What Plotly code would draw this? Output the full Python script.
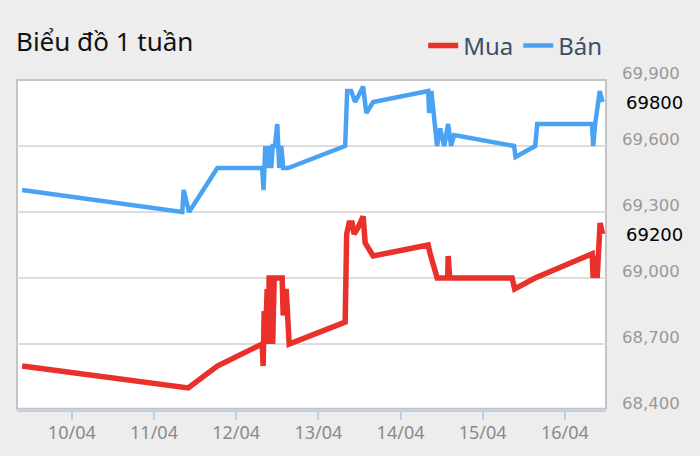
import plotly.graph_objects as go

# ---- data -------------------------------------------------------------
ban_times = [
    "2022-04-09 09:30", "2022-04-11 08:15", "2022-04-11 08:40", "2022-04-11 10:15",
    "2022-04-11 18:30", "2022-04-12 07:35", "2022-04-12 08:00", "2022-04-12 08:30",
    "2022-04-12 09:05", "2022-04-12 09:45", "2022-04-12 10:15", "2022-04-12 10:40",
    "2022-04-12 11:20", "2022-04-12 12:00", "2022-04-12 12:35", "2022-04-12 13:10",
    "2022-04-12 13:45", "2022-04-12 15:10", "2022-04-13 07:50", "2022-04-13 08:25",
    "2022-04-13 09:35", "2022-04-13 10:45", "2022-04-13 13:05", "2022-04-13 14:00",
    "2022-04-13 16:00", "2022-04-14 08:05", "2022-04-14 08:20", "2022-04-14 09:00",
    "2022-04-14 10:40", "2022-04-14 11:35", "2022-04-14 12:45", "2022-04-14 13:55",
    "2022-04-14 14:45", "2022-04-14 15:40", "2022-04-15 09:10", "2022-04-15 09:35",
    "2022-04-15 15:20", "2022-04-15 15:55", "2022-04-16 07:55", "2022-04-16 08:15",
    "2022-04-16 08:50", "2022-04-16 10:10", "2022-04-16 11:00",
]
ban_values = [
    69400, 69300, 69400, 69300,
    69500, 69500, 69400, 69600,
    69500, 69600, 69500, 69600,
    69600, 69700, 69500, 69600,
    69500, 69500, 69600, 69850,
    69850, 69800, 69870, 69750,
    69800, 69850, 69750, 69850,
    69600, 69680, 69600, 69700,
    69600, 69650, 69600, 69550,
    69600, 69700, 69700, 69600,
    69700, 69850, 69800,
]

mua_times = [
    "2022-04-09 09:30", "2022-04-11 08:15", "2022-04-11 10:00", "2022-04-11 18:30",
    "2022-04-12 07:35", "2022-04-12 07:53", "2022-04-12 08:11", "2022-04-12 08:28",
    "2022-04-12 08:46", "2022-04-12 09:04", "2022-04-12 09:21", "2022-04-12 09:38",
    "2022-04-12 10:22", "2022-04-12 10:40", "2022-04-12 11:06", "2022-04-12 13:26",
    "2022-04-12 13:44", "2022-04-12 14:36", "2022-04-12 15:29", "2022-04-13 07:50",
    "2022-04-13 08:16", "2022-04-13 09:00", "2022-04-13 09:52", "2022-04-13 10:27",
    "2022-04-13 11:38", "2022-04-13 13:05", "2022-04-13 13:40", "2022-04-13 16:00",
    "2022-04-14 08:04", "2022-04-14 08:39", "2022-04-14 10:42", "2022-04-14 13:46",
    "2022-04-14 13:55", "2022-04-14 14:21", "2022-04-15 08:35", "2022-04-15 09:20",
    "2022-04-15 15:18", "2022-04-16 07:57", "2022-04-16 08:15", "2022-04-16 08:50",
    "2022-04-16 09:25", "2022-04-16 10:17", "2022-04-16 11:00",
]
mua_values = [
    68600, 68500, 68500, 68600,
    68700, 68600, 68850, 68700,
    68900, 68950, 68700, 69000,
    69000, 68700, 69000, 69000,
    68830, 68950, 68700, 68800,
    69200, 69250, 69250, 69200,
    69230, 69280, 69160, 69100,
    69150, 69110, 69000, 69000,
    69100, 69000, 69000, 68950,
    69000, 69110, 69000, 69100,
    69000, 69250, 69200,
]

y_ticks = [68400, 68700, 69000, 69300, 69600, 69900]
x_ticks = ["2022-04-10", "2022-04-11", "2022-04-12", "2022-04-13",
           "2022-04-14", "2022-04-15", "2022-04-16"]
x_tick_labels = ["10/04", "11/04", "12/04", "13/04", "14/04", "15/04", "16/04"]
last_labels = [("69800", 69800), ("69200", 69200)]

# ---- figure -----------------------------------------------------------
RED = "#E9302A"
BLUE = "#4AA2F5"

fig = go.Figure()
fig.add_trace(go.Scatter(x=mua_times, y=mua_values, name="Mua", mode="lines",
                         line=dict(color=RED, width=5.5)))
fig.add_trace(go.Scatter(x=ban_times, y=ban_values, name="Bán", mode="lines",
                         line=dict(color=BLUE, width=4.5)))

fig.update_layout(
    width=700, height=456,
    margin=dict(l=17, r=94, t=80, b=46, autoexpand=False),
    paper_bgcolor="#EDEDED",
    plot_bgcolor="#FFFFFF",
    font=dict(family="Noto Sans, DejaVu Sans, sans-serif"),
    title=dict(text="Biểu đồ 1 tuần", x=16 / 700, xanchor="left",
               y=1 - 42 / 456, yanchor="middle", yref="container",
               font=dict(size=26, color="#111111", family="Noto Sans")),
    showlegend=True,
    legend=dict(orientation="h", xanchor="right", x=1.002, yanchor="middle",
                y=(410 - 46) / 330, bgcolor="rgba(0,0,0,0)",
                font=dict(size=24, color="#3D4F68", family="Noto Sans"),
                itemwidth=30, tracegroupgap=0),
    xaxis=dict(
        type="date",
        range=["2022-04-09 08:00", "2022-04-16 12:00"],
        tickvals=x_ticks, ticktext=x_tick_labels,
        showgrid=False, zeroline=False, automargin=False,
        ticks="outside", ticklen=8, tickwidth=2, tickcolor="#C0D0E0",
        showline=True, linecolor="#C0D0E0", linewidth=2,
        ticklabelstandoff=-3,
        tickfont=dict(size=18, color="#8A8A8A", family="Noto Sans"),
        fixedrange=True,
    ),
    yaxis=dict(
        side="right",
        range=[68400, 69900],
        tickvals=y_ticks, tickformat=",",
        showgrid=True, gridcolor="#DDDDDD", gridwidth=2,
        zeroline=False, ticks="", automargin=False,
        ticklabelshift=-7, ticklabelstandoff=15,
        tickfont=dict(size=16.5, color="#999999", family="DejaVu Sans"),
        fixedrange=True,
    ),
    shapes=[dict(type="rect", xref="paper", yref="paper", x0=0, x1=1, y0=0.004, y1=1,
                 line=dict(color="#C4C4C4", width=2), layer="below")],
)

for txt, val in last_labels:
    fig.add_annotation(text=txt, xref="paper", x=1, y=val, yref="y",
                       xanchor="left", yanchor="middle", xshift=18, showarrow=False,
                       font=dict(size=18, color="#000000", family="DejaVu Sans"))

fig.write_html(
    "out.html",
    config={"displayModeBar": False},
    post_script="document.body.style.margin='0';document.body.style.overflow='hidden';",
)
